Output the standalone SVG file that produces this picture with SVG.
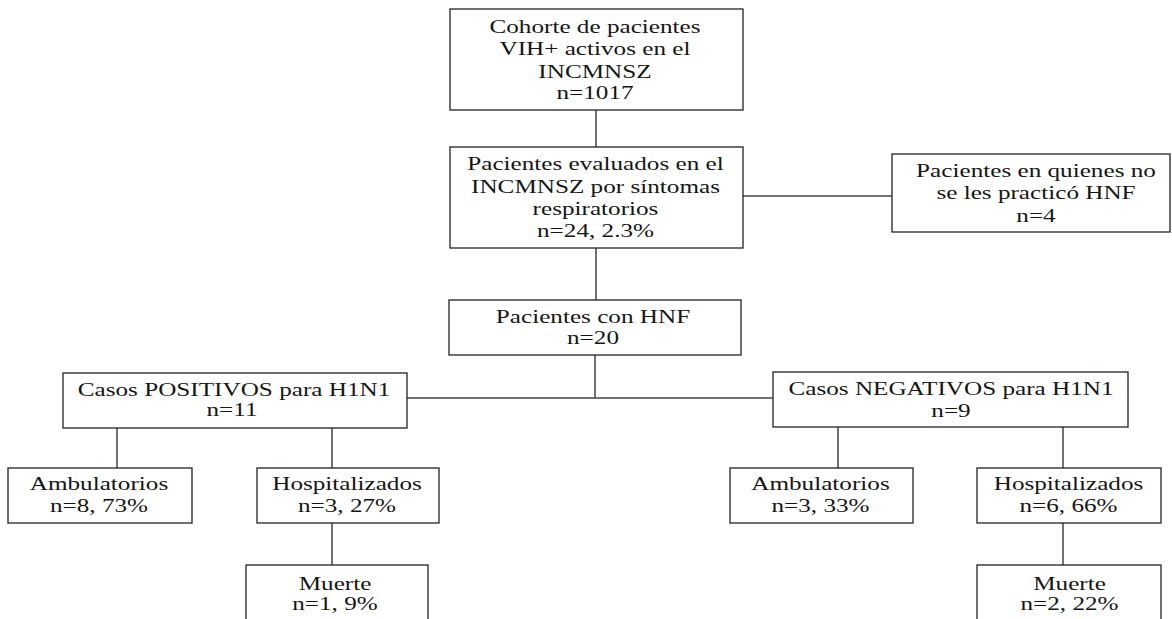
<svg xmlns="http://www.w3.org/2000/svg" width="1172" height="619" viewBox="0 0 1172 619">
<style>
.box{fill:#fff;stroke:#222;stroke-width:1.3}
.t{font-family:'Liberation Serif','Times New Roman',serif;font-size:18px;fill:#151515;text-anchor:middle}
.c{stroke:#444;stroke-width:1.5;fill:none}
</style>
<rect width="1172" height="619" fill="#fff"/>
<g id="connectors">
<path class="c" d="M596 110V147"/>
<path class="c" d="M743 196H892"/>
<path class="c" d="M596 248V300"/>
<path class="c" d="M595 355V398"/>
<path class="c" d="M407 398H773"/>
<path class="c" d="M117 428V468"/>
<path class="c" d="M332 428V468"/>
<path class="c" d="M332 523V565"/>
<path class="c" d="M838 427V468"/>
<path class="c" d="M1063 427V468"/>
<path class="c" d="M1063 523V565"/>
</g>
<g id="n1"><rect class="box" x="450" y="9" width="293" height="101"/>
<text class="t" transform="translate(595 32.7) scale(1.4 1)">Cohorte de pacientes</text>
<text class="t" transform="translate(595 55) scale(1.4 1)">VIH+ activos en el</text>
<text class="t" transform="translate(595 77.5) scale(1.4 1)">INCMNSZ</text>
<text class="t" transform="translate(595 99.3) scale(1.4 1)">n=1017</text></g>
<g id="n2"><rect class="box" x="450" y="147" width="293" height="101"/>
<text class="t" transform="translate(595.5 170) scale(1.4 1)">Pacientes evaluados en el</text>
<text class="t" transform="translate(595.5 192.5) scale(1.4 1)">INCMNSZ por síntomas</text>
<text class="t" transform="translate(595.5 214.5) scale(1.4 1)">respiratorios</text>
<text class="t" transform="translate(595.5 236.5) scale(1.4 1)">n=24, 2.3%</text></g>
<g id="n3"><rect class="box" x="892" y="154" width="278" height="78"/>
<text class="t" transform="translate(1036 177.3) scale(1.4 1)">Pacientes en quienes no</text>
<text class="t" transform="translate(1036 199.3) scale(1.4 1)">se les practicó HNF</text>
<text class="t" transform="translate(1036 221.7) scale(1.4 1)">n=4</text></g>
<g id="n4"><rect class="box" x="449" y="300" width="292" height="55"/>
<text class="t" transform="translate(593 323.3) scale(1.4 1)">Pacientes con HNF</text>
<text class="t" transform="translate(593 343.5) scale(1.4 1)">n=20</text></g>
<g id="n5"><rect class="box" x="63" y="373" width="344" height="55"/>
<text class="t" transform="translate(234 395.7) scale(1.4 1)">Casos POSITIVOS para H1N1</text>
<text class="t" transform="translate(232 415.5) scale(1.4 1)">n=11</text></g>
<g id="n6"><rect class="box" x="773" y="372" width="355" height="55"/>
<text class="t" transform="translate(951 395) scale(1.4 1)">Casos NEGATIVOS para H1N1</text>
<text class="t" transform="translate(951 416.5) scale(1.4 1)">n=9</text></g>
<g id="n7"><rect class="box" x="8" y="468" width="184" height="55"/>
<text class="t" transform="translate(99 490) scale(1.4 1)">Ambulatorios</text>
<text class="t" transform="translate(99 511.7) scale(1.4 1)">n=8, 73%</text></g>
<g id="n8"><rect class="box" x="257" y="468" width="182" height="55"/>
<text class="t" transform="translate(347 490) scale(1.4 1)">Hospitalizados</text>
<text class="t" transform="translate(347 511.7) scale(1.4 1)">n=3, 27%</text></g>
<g id="n9"><rect class="box" x="246" y="565" width="182" height="60"/>
<text class="t" transform="translate(335 590) scale(1.4 1)">Muerte</text>
<text class="t" transform="translate(335 610) scale(1.4 1)">n=1, 9%</text></g>
<g id="n10"><rect class="box" x="730" y="468" width="183" height="55"/>
<text class="t" transform="translate(820.5 490) scale(1.4 1)">Ambulatorios</text>
<text class="t" transform="translate(820.5 511.7) scale(1.4 1)">n=3, 33%</text></g>
<g id="n11"><rect class="box" x="977" y="468" width="184" height="55"/>
<text class="t" transform="translate(1068.5 490) scale(1.4 1)">Hospitalizados</text>
<text class="t" transform="translate(1068.5 511.7) scale(1.4 1)">n=6, 66%</text></g>
<g id="n12"><rect class="box" x="977" y="565" width="184" height="60"/>
<text class="t" transform="translate(1069.5 590) scale(1.4 1)">Muerte</text>
<text class="t" transform="translate(1069.5 610) scale(1.4 1)">n=2, 22%</text></g>
</svg>
